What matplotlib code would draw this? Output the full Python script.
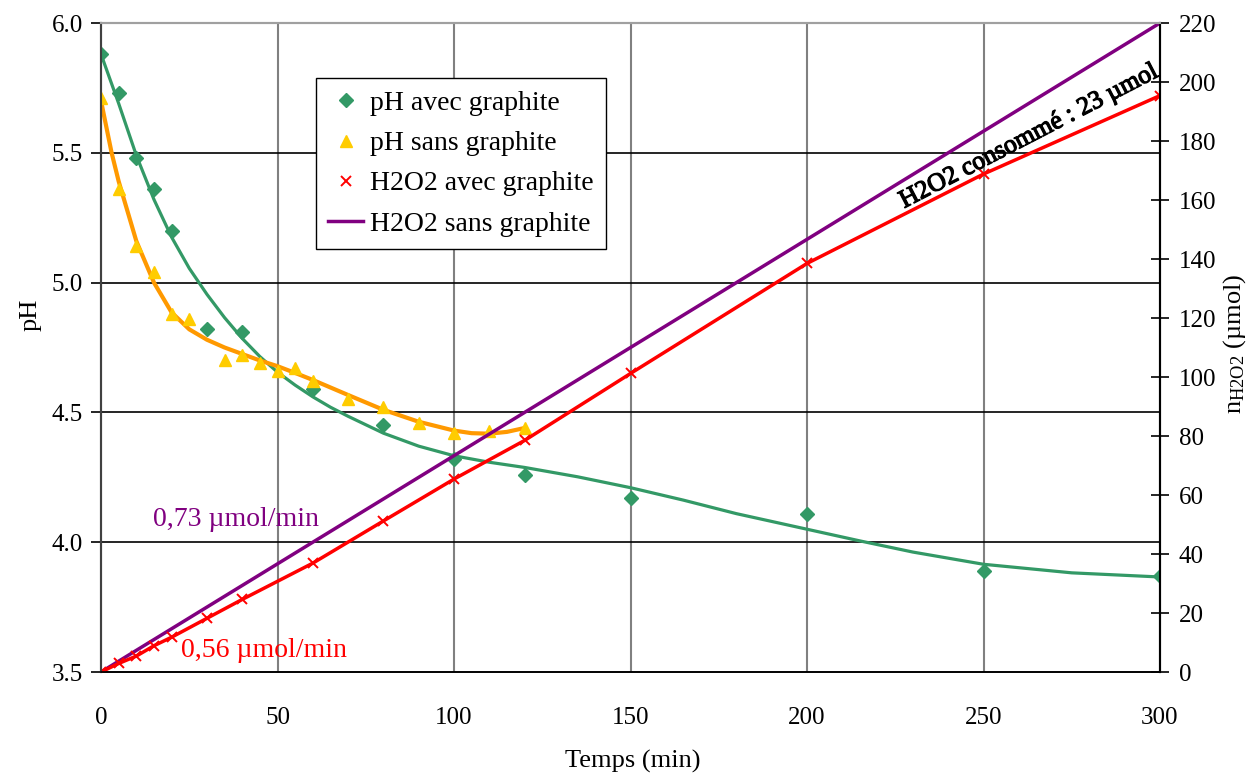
import matplotlib
matplotlib.use("Agg")
import matplotlib.pyplot as plt
from matplotlib import patheffects

# pH avec graphite (points)
t_ph_avec = [0, 5, 10, 15, 20, 30, 40, 60, 80, 100, 120, 150, 200, 250, 300]
ph_avec = [5.88, 5.73, 5.48, 5.36, 5.20, 4.82, 4.81, 4.59, 4.45, 4.32, 4.26, 4.17, 4.11, 3.89, 3.87]

# pH sans graphite (points)
t_ph_sans = [0, 5, 10, 15, 20, 25, 35, 40, 45, 50, 55, 60, 70, 80, 90, 100, 110, 120]
ph_sans = [5.71, 5.36, 5.14, 5.04, 4.88, 4.86, 4.70, 4.72, 4.69, 4.66, 4.67, 4.62, 4.55, 4.52, 4.46, 4.42, 4.43, 4.44]

# smoothed trend curves
t_fit_avec = [0, 5, 10, 15, 20, 25, 30, 35, 40, 45, 50, 55, 60, 65, 70, 80, 90, 100, 110, 120,
              135, 150, 165, 180, 200, 215, 230, 250, 275, 300]
fit_avec = [5.88, 5.69, 5.49, 5.32, 5.175, 5.055, 4.955, 4.865, 4.785, 4.715, 4.655, 4.605, 4.56,
            4.52, 4.485, 4.42, 4.37, 4.333, 4.308, 4.288, 4.252, 4.21, 4.162, 4.11, 4.05, 4.005,
            3.962, 3.915, 3.882, 3.866]
t_fit_sans = [0, 3, 5, 10, 15, 20, 25, 30, 35, 40, 45, 50, 55, 60, 70, 80, 90, 100, 105, 110, 115, 120]
fit_sans = [5.70, 5.50, 5.39, 5.16, 5.00, 4.885, 4.82, 4.78, 4.75, 4.725, 4.70, 4.678, 4.652, 4.625,
            4.567, 4.51, 4.464, 4.43, 4.42, 4.418, 4.425, 4.44]

# n H2O2 (umol)
t_h2o2_avec = [0, 5, 10, 15, 20, 30, 40, 60, 80, 100, 120, 150, 200, 250, 300]
h2o2_avec = [0, 2.9, 5.4, 8.9, 11.8, 18.2, 24.6, 36.9, 51.2, 65.4, 78.5, 101.2, 138.5, 168.8, 195.4]
t_h2o2_sans = [0, 300]
h2o2_sans = [0, 220]

plt.rcParams['font.family'] = ['Liberation Serif', 'DejaVu Serif']
plt.rcParams['mathtext.fontset'] = 'custom'
plt.rcParams['mathtext.rm'] = 'Liberation Serif'
plt.rcParams['mathtext.it'] = 'Liberation Serif:italic'

green = '#339966'
fig = plt.figure(figsize=(12.55, 7.75), dpi=100)
ax1 = fig.add_axes([0.0805, 0.1329, 0.8438, 0.8374])
ax2 = ax1.twinx()

# grid
for x in [50, 100, 150, 200, 250]:
    ax1.axvline(x, color='#808080', lw=1.5, zorder=0)
for y in [4.0, 4.5, 5.0, 5.5]:
    ax1.axhline(y, color='black', lw=1.2, zorder=0)

# pH
ax1.plot(t_fit_avec, fit_avec, color=green, lw=2.3, zorder=2)
ax1.plot(t_fit_sans, fit_sans, color='#FF9900', lw=3, zorder=2)
p1, = ax1.plot(t_ph_avec, ph_avec, 'D', color=green, ms=7, zorder=3, label='pH avec graphite')
p2, = ax1.plot(t_ph_sans, ph_sans, '^', color='#FFCC00', ms=9, zorder=3, label='pH sans graphite')

# H2O2
p4, = ax2.plot(t_h2o2_sans, h2o2_sans, color='#800080', lw=2.5, label='H2O2 sans graphite')
ax2.plot(t_h2o2_avec, h2o2_avec, color='#FF0000', lw=2.5)
p3, = ax2.plot(t_h2o2_avec, h2o2_avec, 'x', color='#FF0000', ms=7, mew=1.4, label='H2O2 avec graphite')

ax1.set_xlim(0, 300)
ax1.set_ylim(3.5, 6.0)
ax2.set_ylim(0, 220)
ax1.set_xticks(range(0, 301, 50))
ax1.set_yticks([3.5, 4.0, 4.5, 5.0, 5.5, 6.0])
ax1.set_yticklabels(['%.1f' % v for v in [3.5, 4.0, 4.5, 5.0, 5.5, 6.0]])
ax2.set_yticks(range(0, 221, 20))

ax1.tick_params(axis='x', length=0, pad=25, labelsize=18)
ax1.tick_params(axis='y', direction='out', length=7, width=1.2, pad=6, labelsize=18)
ax2.tick_params(axis='y', direction='inout', length=13, width=1.2, pad=7, labelsize=18)

for ax in (ax1, ax2):
    ax.spines['top'].set_color('#a0a0a0')
    ax.spines['top'].set_linewidth(1.5)
    ax.spines['left'].set_color('#404040')
    ax.spines['left'].set_linewidth(1.5)
    ax.spines['right'].set_linewidth(1.5)
    ax.spines['bottom'].set_linewidth(1.2)

fig.text(0.024, 0.594, 'pH', rotation=90, ha='center', va='center', fontsize=19)
fig.text(0.504, 0.017, 'Temps (min)', ha='center', va='center', fontsize=19)
fig.text(0.984, 0.556, r'n$_{\mathrm{H2O2}}$ (µmol)', rotation=90, ha='center', va='center', fontsize=19)

# annotations
ax1.text(14.6, 4.062, '0,73 µmol/min', color='#800080', fontsize=20, va='baseline', ha='left')
ax1.text(22.6, 3.559, '0,56 µmol/min', color='#FF0000', fontsize=20, va='baseline', ha='left')
ax2.text(263, 181.5, 'H2O2 consommé : 23 µmol', rotation=27.4, rotation_mode='anchor',
         ha='center', va='center', fontsize=18.5, color='black',
         path_effects=[patheffects.withStroke(linewidth=0.9, foreground='black')])

leg = ax2.legend(handles=[p1, p2, p3, p4], loc='upper left', bbox_to_anchor=(0.203, 0.915),
                 borderaxespad=0, fancybox=False, framealpha=1, edgecolor='black',
                 fontsize=20, handlelength=1.25, labelspacing=0.53, handletextpad=0.25,
                 borderpad=0.45)
leg.get_frame().set_linewidth(1.0)

fig.savefig('out.png', dpi=100)
